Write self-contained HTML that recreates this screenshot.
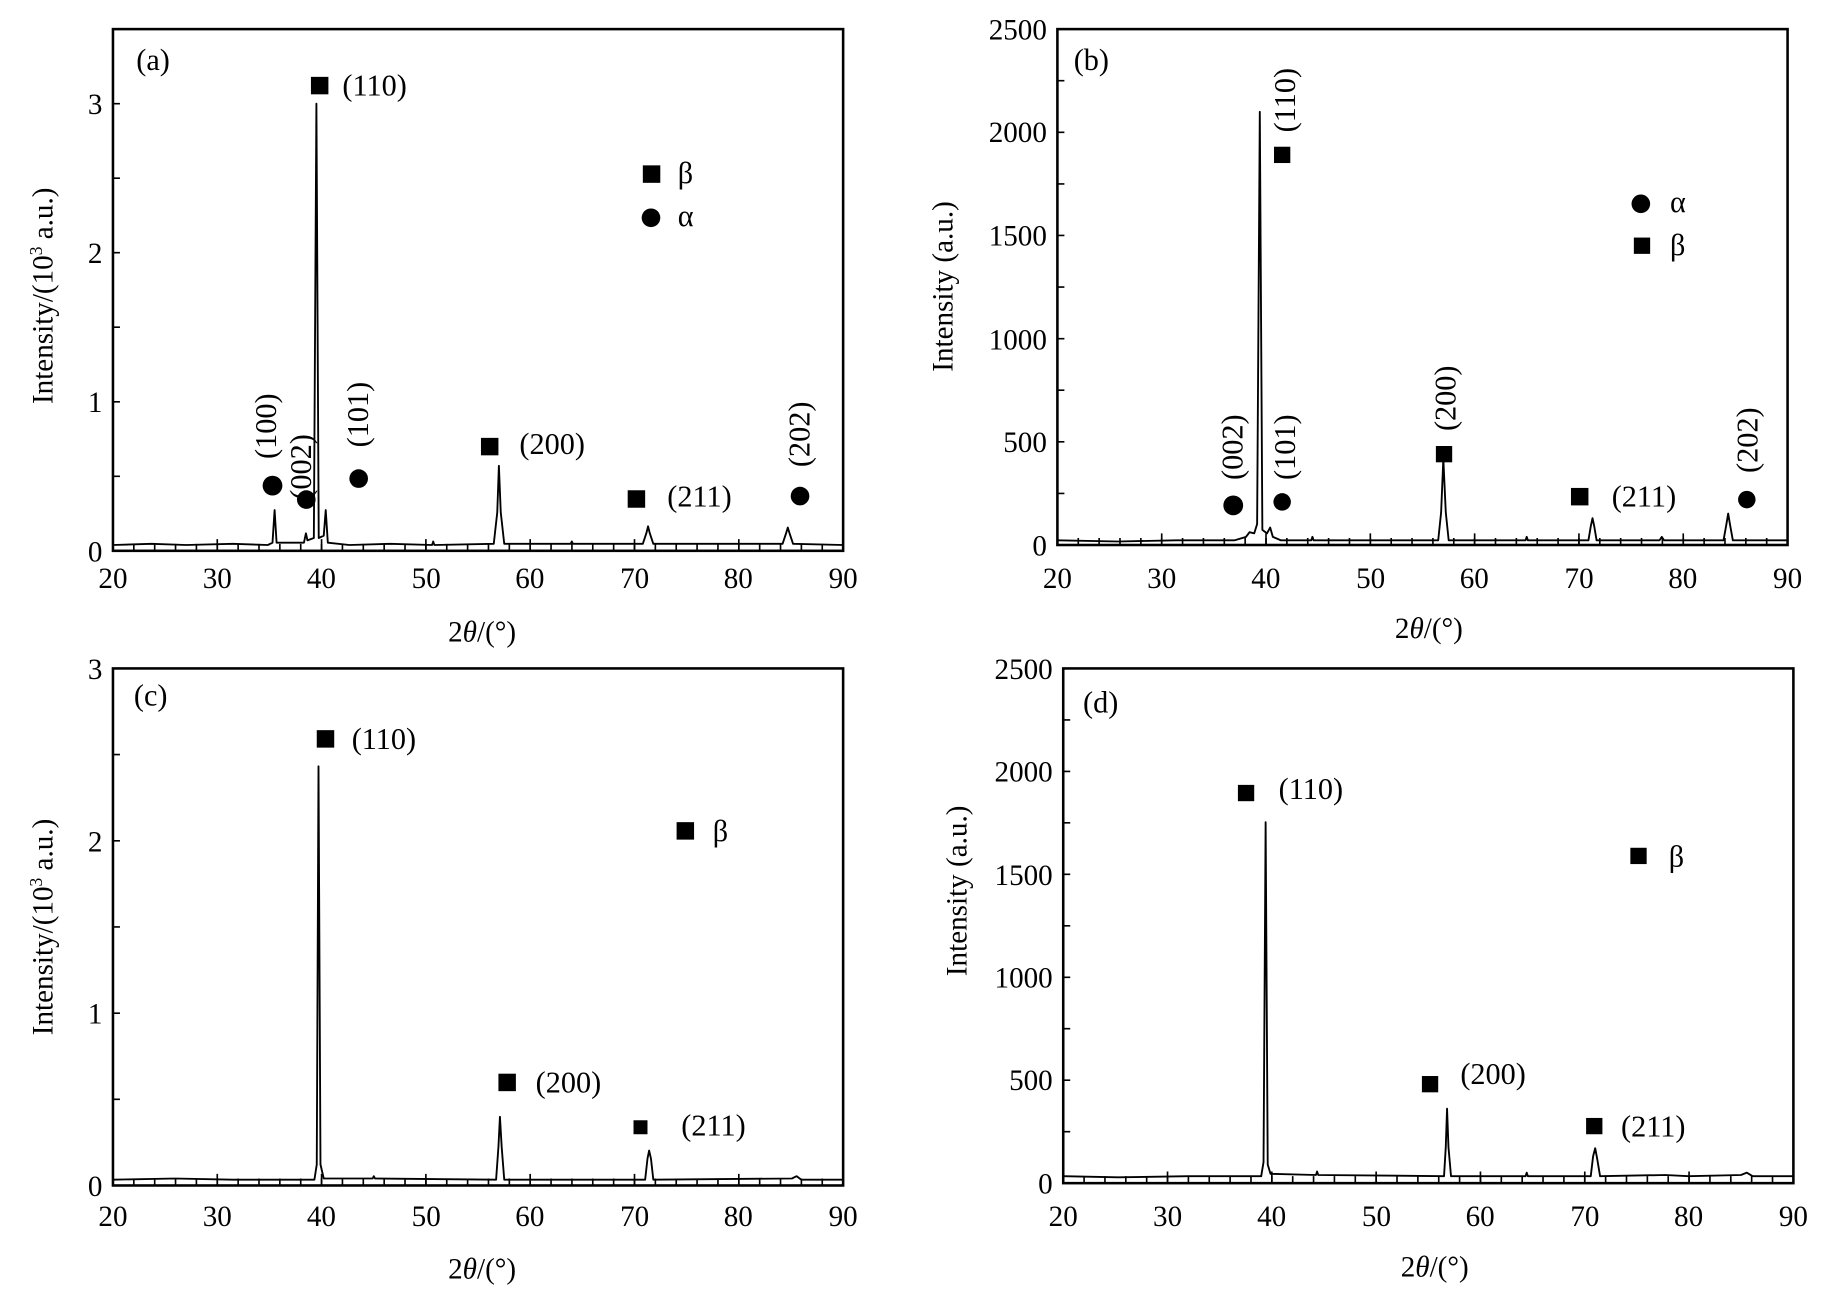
<!DOCTYPE html>
<html><head><meta charset="utf-8"><style>
html,body{margin:0;padding:0;background:#fff;}
svg{display:block;}
text{font-family:"Liberation Serif",serif;fill:#000;}
.t{font-size:25px;}
.l{font-size:26px;}
.yt{font-size:25px;}
</style></head><body>
<svg width="1826" height="1313" viewBox="0 0 1568 1127.5" preserveAspectRatio="none" xmlns="http://www.w3.org/2000/svg">
<rect width="1568" height="1128" fill="#fff"/>
<g fill="none" stroke="#000" stroke-width="1.6" stroke-linejoin="round">
<path d="M97 468 L130 467 L160 468 L200 467 L230 468 L234 466 L235.8 438 L237.5 466 L261 466 L262.7 458 L264 464 L269.5 462 L271.7 89 L273.7 462 L278 460 L279.7 438 L281.5 466 L300 468 L335 467 L371 468 L372 465 L373 468 L424 467 L427 440 L428.4 400 L430 440 L433 467 L490 467 L491 465 L492 467 L552 467 L555 458 L556.5 452 L558 458 L561 467 L672 467 L675 458 L676.5 453 L678 458 L681 467 L724 468"/>
<path d="M908 464 L960 465 L1010 464 L1060 464 L1070 461 L1073 457 L1077 458 L1079.5 450 L1081.8 96 L1084 455 L1088 458 L1090.7 453 L1093 461 L1100 464 L1126 464 L1127 461 L1128 464 L1235 464 L1237.5 440 L1239.4 394 L1241.5 440 L1244 464 L1310 464 L1311 461 L1312 464 L1364 464 L1366 452 L1367.5 445 L1369 452 L1371 464 L1425 464 L1427 461 L1429 464 L1480 464 L1482.5 450 L1484 441 L1485.5 450 L1488 464 L1535 464"/>
<path d="M97 1013 L150 1012 L200 1013 L270 1013 L272 1000 L273.5 658 L275.2 1000 L278 1012 L320 1012 L321 1010 L322 1012 L426 1013 L428 985 L429.3 959 L430.8 985 L433 1013 L554 1013 L556 995 L557.4 988 L559 995 L561 1013 L680 1012 L684 1010 L688 1013 L724 1013"/>
<path d="M913 1010 L960 1011 L1020 1010 L1083 1010 L1085 998 L1086.8 706 L1088.6 1000 L1091 1008 L1130 1009 L1131 1006 L1132 1009 L1240 1010 L1241.5 985 L1242.6 952 L1243.8 985 L1246 1010 L1310 1010 L1311 1007 L1312 1010 L1366 1010 L1368 993 L1369.8 986 L1371.5 995 L1374 1010 L1430 1009 L1450 1010 L1495 1009 L1500 1007 L1505 1010 L1540 1010"/>
</g>
<!-- ticks via dasharray -->
<g stroke="#000" fill="none">
<line x1="96.3" y1="470" x2="726" y2="470" stroke-width="6" stroke-dasharray="1.4 16.514"/>
<line x1="96.3" y1="468" x2="726" y2="468" stroke-width="10" stroke-dasharray="1.4 88.17"/>
<line x1="907.3" y1="465" x2="1537" y2="465" stroke-width="6" stroke-dasharray="1.4 16.514"/>
<line x1="907.3" y1="463" x2="1537" y2="463" stroke-width="10" stroke-dasharray="1.4 88.17"/>
<line x1="96.3" y1="1015" x2="726" y2="1015" stroke-width="6" stroke-dasharray="1.4 16.514"/>
<line x1="96.3" y1="1013" x2="726" y2="1013" stroke-width="10" stroke-dasharray="1.4 88.17"/>
<line x1="912.3" y1="1013" x2="1542" y2="1013" stroke-width="6" stroke-dasharray="1.4 16.514"/>
<line x1="912.3" y1="1011" x2="1542" y2="1011" stroke-width="10" stroke-dasharray="1.4 88.17"/>
<line x1="100" y1="473.7" x2="100" y2="24" stroke-width="6" stroke-dasharray="1.4 62.6"/>
<line x1="911" y1="468.7" x2="911" y2="24" stroke-width="6" stroke-dasharray="1.4 42.9"/>
<line x1="100" y1="1018.7" x2="100" y2="573" stroke-width="6" stroke-dasharray="1.4 72.6"/>
<line x1="916" y1="1016.7" x2="916" y2="573" stroke-width="6" stroke-dasharray="1.4 42.8"/>
</g>
<g fill="none" stroke="#000" stroke-width="2.2">
<rect x="97" y="25" width="627" height="448"/>
<rect x="908" y="25" width="627" height="443"/>
<rect x="97" y="574" width="627" height="444"/>
<rect x="913" y="574" width="627" height="442"/>
</g>
<g class="t" text-anchor="middle">
<text x="97" y="505">20</text><text x="186.6" y="505">30</text><text x="276" y="505">40</text><text x="366" y="505">50</text><text x="455" y="505">60</text><text x="545" y="505">70</text><text x="634" y="505">80</text><text x="724" y="505">90</text>
<text x="908" y="505">20</text><text x="997.6" y="505">30</text><text x="1087" y="505">40</text><text x="1177" y="505">50</text><text x="1266" y="505">60</text><text x="1356" y="505">70</text><text x="1445" y="505">80</text><text x="1535" y="505">90</text>
<text x="97" y="1053">20</text><text x="186.6" y="1053">30</text><text x="276" y="1053">40</text><text x="366" y="1053">50</text><text x="455" y="1053">60</text><text x="545" y="1053">70</text><text x="634" y="1053">80</text><text x="724" y="1053">90</text>
<text x="913" y="1053">20</text><text x="1002.6" y="1053">30</text><text x="1092" y="1053">40</text><text x="1182" y="1053">50</text><text x="1271" y="1053">60</text><text x="1361" y="1053">70</text><text x="1450" y="1053">80</text><text x="1540" y="1053">90</text>
</g>
<g class="t" text-anchor="end">
<text x="88" y="482">0</text><text x="88" y="354">1</text><text x="88" y="226">2</text><text x="88" y="98">3</text>
<text x="899" y="477">0</text><text x="899" y="388">500</text><text x="899" y="300">1000</text><text x="899" y="211">1500</text><text x="899" y="122">2000</text><text x="899" y="34">2500</text>
<text x="88" y="1027">0</text><text x="88" y="879">1</text><text x="88" y="731">2</text><text x="88" y="583">3</text>
<text x="904" y="1025">0</text><text x="904" y="936">500</text><text x="904" y="848">1000</text><text x="904" y="760">1500</text><text x="904" y="671">2000</text><text x="904" y="583">2500</text>
</g>
<g class="yt" text-anchor="middle">
<text x="414" y="551">2<tspan font-style="italic">θ</tspan>/(°)</text>
<text x="1227" y="548">2<tspan font-style="italic">θ</tspan>/(°)</text>
<text x="414" y="1098">2<tspan font-style="italic">θ</tspan>/(°)</text>
<text x="1232" y="1096">2<tspan font-style="italic">θ</tspan>/(°)</text>
<text transform="translate(45,254) rotate(-90)">Intensity/(10<tspan font-size="15" dy="-9">3</tspan><tspan dy="9"> a.u.)</tspan></text>
<text transform="translate(818,246) rotate(-90)">Intensity (a.u.)</text>
<text transform="translate(45,796) rotate(-90)">Intensity/(10<tspan font-size="15" dy="-9">3</tspan><tspan dy="9"> a.u.)</tspan></text>
<text transform="translate(830,765) rotate(-90)">Intensity (a.u.)</text>
</g>
<g class="l">
<text x="117" y="60">(a)</text><text x="922" y="60">(b)</text><text x="115" y="606">(c)</text><text x="930" y="612">(d)</text>
<text x="294" y="82">(110)</text><text x="582" y="157">β</text><text x="582" y="194">α</text>
<text x="446" y="390">(200)</text><text x="573" y="435">(211)</text>
<text transform="translate(237,366) rotate(-90)" text-anchor="middle">(100)</text>
<text transform="translate(267,401) rotate(-90)" text-anchor="middle">(002)</text>
<text transform="translate(316,356) rotate(-90)" text-anchor="middle">(101)</text>
<text transform="translate(695,373) rotate(-90)" text-anchor="middle">(202)</text>
<text transform="translate(1112,86) rotate(-90)" text-anchor="middle">(110)</text>
<text x="1434" y="182">α</text><text x="1434" y="219">β</text>
<text transform="translate(1067,384) rotate(-90)" text-anchor="middle">(002)</text>
<text transform="translate(1112,384) rotate(-90)" text-anchor="middle">(101)</text>
<text transform="translate(1250,342) rotate(-90)" text-anchor="middle">(200)</text>
<text x="1384" y="435">(211)</text>
<text transform="translate(1509,378) rotate(-90)" text-anchor="middle">(202)</text>
<text x="302" y="643">(110)</text><text x="612" y="722">β</text>
<text x="460" y="938">(200)</text><text x="585" y="975">(211)</text>
<text x="1098" y="686">(110)</text><text x="1433" y="744">β</text>
<text x="1254" y="931">(200)</text><text x="1392" y="976">(211)</text>
</g>
<g fill="#000">
<rect x="267" y="66" width="15" height="15"/><rect x="552" y="142" width="15" height="15"/><circle cx="559" cy="187" r="8"/>
<circle cx="234" cy="417" r="8.5"/><circle cx="263" cy="429" r="8"/><circle cx="308" cy="411" r="8"/><circle cx="687" cy="426" r="8"/>
<rect x="413" y="376" width="15" height="15"/><rect x="539" y="421" width="15" height="15"/>
<rect x="1094" y="126" width="14" height="14"/><circle cx="1409" cy="175" r="8"/><rect x="1403" y="204" width="14" height="14"/>
<circle cx="1059" cy="434" r="8.5"/><circle cx="1101" cy="431" r="7.5"/><rect x="1233" y="383" width="14" height="14"/>
<rect x="1349" y="419" width="15" height="15"/><circle cx="1500" cy="429" r="7.5"/>
<rect x="272" y="627" width="15" height="15"/><rect x="581" y="706" width="15" height="15"/><rect x="428" y="922" width="15" height="15"/><rect x="544" y="962" width="12" height="12"/>
<rect x="1063" y="674" width="14" height="14"/><rect x="1400" y="728" width="14" height="14"/><rect x="1221" y="924" width="14" height="14"/><rect x="1362" y="960" width="14" height="14"/>
</g>
</svg>
</body></html>
